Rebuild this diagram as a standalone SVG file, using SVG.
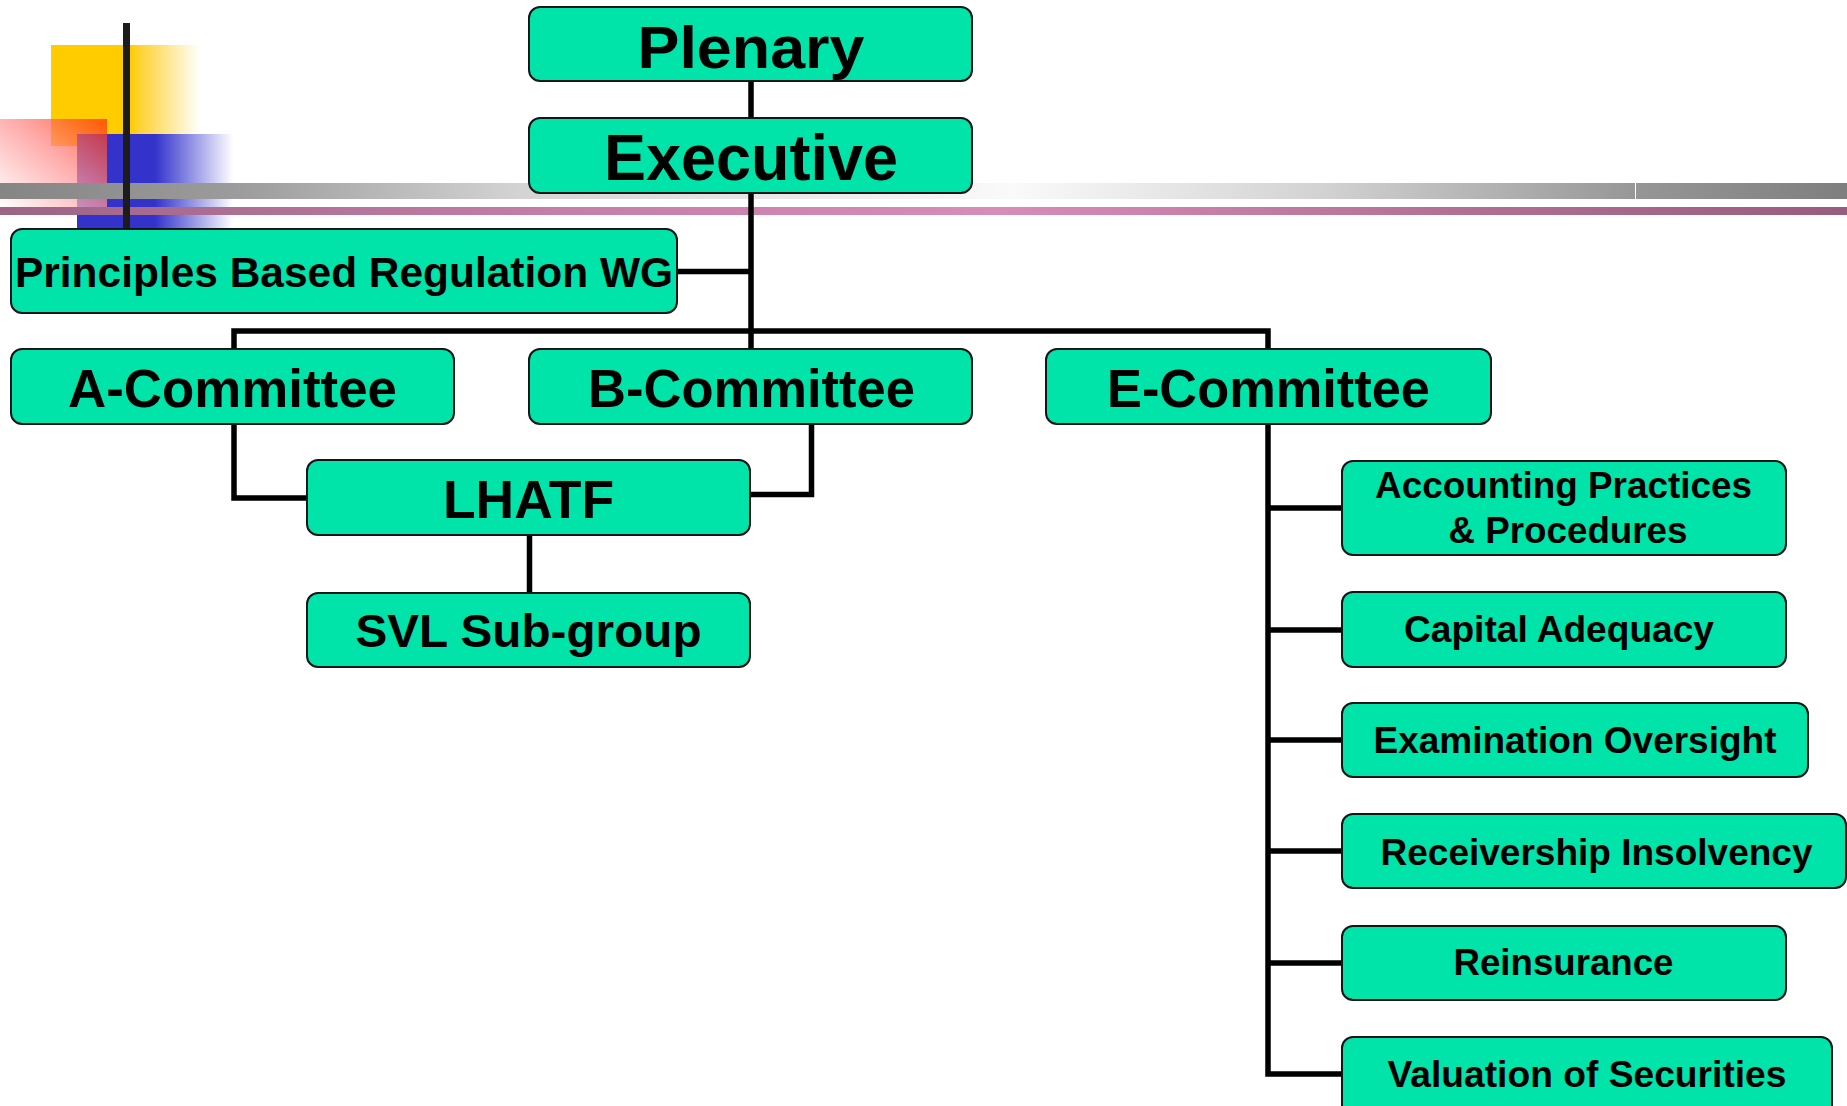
<svg xmlns="http://www.w3.org/2000/svg" width="1847" height="1106" viewBox="0 0 1847 1106">
<defs>
<style>
.box{fill:#00E3A9;stroke:#151515;stroke-width:2}
.t{font-family:"Liberation Sans",Arial,sans-serif;font-weight:bold;fill:#000;text-anchor:middle}
.c{fill:none;stroke:#000;stroke-width:5.5;stroke-linejoin:miter}
</style>
<linearGradient id="gY" x1="0" y1="0" x2="1" y2="0">
<stop offset="0" stop-color="#FFCC00"/>
<stop offset="0.53" stop-color="#FFCC00"/>
<stop offset="0.6" stop-color="#FFD236"/>
<stop offset="1" stop-color="#FFFFFF"/>
</linearGradient>
<linearGradient id="gB" x1="0" y1="0" x2="1" y2="0">
<stop offset="0" stop-color="#3333CC"/>
<stop offset="0.5" stop-color="#3333CC"/>
<stop offset="1" stop-color="#FFFFFF"/>
</linearGradient>
<linearGradient id="gR" x1="1" y1="0" x2="0" y2="1">
<stop offset="0" stop-color="#FF2A00"/>
<stop offset="0.45" stop-color="#FF8C8C"/>
<stop offset="1" stop-color="#FFFFFF"/>
</linearGradient>
<linearGradient id="gG1" x1="0" y1="0" x2="1" y2="0">
<stop offset="0" stop-color="#858585"/>
<stop offset="0.147" stop-color="#9C9C9C"/>
<stop offset="0.32" stop-color="#D4D4D4"/>
<stop offset="0.62" stop-color="#FAFAFA"/>
<stop offset="0.81" stop-color="#D2D2D2"/>
<stop offset="1" stop-color="#979797"/>
</linearGradient>
<linearGradient id="gG2" x1="0" y1="0" x2="1" y2="0">
<stop offset="0" stop-color="#969696"/>
<stop offset="1" stop-color="#7F7F7F"/>
</linearGradient>
<linearGradient id="gM" x1="0" y1="0" x2="1" y2="0">
<stop offset="0" stop-color="#9C6486"/>
<stop offset="0.3" stop-color="#C47EA7"/>
<stop offset="0.54" stop-color="#D88CB8"/>
<stop offset="0.8" stop-color="#B06E92"/>
<stop offset="1" stop-color="#985C7E"/>
</linearGradient>
</defs>

<g id="decoration">
<rect x="51" y="45" width="149" height="101" fill="url(#gY)"/>
<rect x="77" y="134" width="156" height="95" fill="url(#gB)"/>
<rect x="0" y="119" width="107" height="88" fill="url(#gR)" opacity="0.72"/>
<rect x="0" y="183" width="1635" height="16" fill="url(#gG1)"/>
<rect x="1636" y="183" width="211" height="16" fill="url(#gG2)"/>
<rect x="0" y="207" width="1847" height="8" fill="url(#gM)"/>
<rect x="123" y="23" width="7" height="206" fill="#1C1C1C"/>
</g>

<g id="connectors">
<path class="c" d="M751 81 V118"/>
<path class="c" d="M751 193 V349"/>
<path class="c" d="M677 271.5 H751"/>
<path class="c" d="M234 349 V331 H1268 V349"/>
<path class="c" d="M234 424 V498 H307"/>
<path class="c" d="M811.5 420 V494.5 H750"/>
<path class="c" d="M529.5 535 V593"/>
<path class="c" d="M1268 424 V1074 H1342"/>
<path class="c" d="M1268 508 H1342"/>
<path class="c" d="M1268 630 H1342"/>
<path class="c" d="M1268 740 H1342"/>
<path class="c" d="M1268 851 H1342"/>
<path class="c" d="M1268 963 H1342"/>
</g>

<g id="plenary"><rect class="box" x="529" y="7" width="443" height="74" rx="11"/><text class="t" x="751" y="68.3" font-size="60" textLength="227" lengthAdjust="spacingAndGlyphs">Plenary</text></g>
<g id="executive"><rect class="box" x="529" y="118" width="443" height="75" rx="11"/><text class="t" x="751" y="180" font-size="64" textLength="294" lengthAdjust="spacingAndGlyphs">Executive</text></g>
<g id="pbr"><rect class="box" x="11" y="229" width="666" height="84" rx="11"/><text class="t" x="344" y="287.3" font-size="42.5" textLength="658" lengthAdjust="spacingAndGlyphs">Principles Based Regulation WG</text></g>
<g id="a-committee"><rect class="box" x="11" y="349" width="443" height="75" rx="11"/><text class="t" x="232.5" y="406.7" font-size="52.8" textLength="329" lengthAdjust="spacingAndGlyphs">A-Committee</text></g>
<g id="b-committee"><rect class="box" x="529" y="349" width="443" height="75" rx="11"/><text class="t" x="751.5" y="406.7" font-size="52.8" textLength="327" lengthAdjust="spacingAndGlyphs">B-Committee</text></g>
<g id="e-committee"><rect class="box" x="1046" y="349" width="445" height="75" rx="11"/><text class="t" x="1268.5" y="406.7" font-size="52.8" textLength="323" lengthAdjust="spacingAndGlyphs">E-Committee</text></g>
<g id="lhatf"><rect class="box" x="307" y="460" width="443" height="75" rx="11"/><text class="t" x="528.5" y="517.7" font-size="53" textLength="171" lengthAdjust="spacingAndGlyphs">LHATF</text></g>
<g id="svl"><rect class="box" x="307" y="593" width="443" height="74" rx="11"/><text class="t" x="528.5" y="646.7" font-size="47" textLength="346" lengthAdjust="spacingAndGlyphs">SVL Sub-group</text></g>
<g id="accounting"><rect class="box" x="1342" y="461" width="444" height="94" rx="11"/><text class="t" x="1563.5" y="498.3" font-size="36.8" textLength="377" lengthAdjust="spacingAndGlyphs">Accounting Practices</text><text class="t" x="1568" y="542.7" font-size="36.8" textLength="239" lengthAdjust="spacingAndGlyphs">&amp; Procedures</text></g>
<g id="capital"><rect class="box" x="1342" y="592" width="444" height="75" rx="11"/><text class="t" x="1559" y="642.3" font-size="36.8" textLength="310" lengthAdjust="spacingAndGlyphs">Capital Adequacy</text></g>
<g id="examination"><rect class="box" x="1342" y="703" width="466" height="74" rx="11"/><text class="t" x="1575" y="753.3" font-size="36.8" textLength="403" lengthAdjust="spacingAndGlyphs">Examination Oversight</text></g>
<g id="receivership"><rect class="box" x="1342" y="814" width="504" height="74" rx="11"/><text class="t" x="1596.5" y="865" font-size="36.8" textLength="432" lengthAdjust="spacingAndGlyphs">Receivership Insolvency</text></g>
<g id="reinsurance"><rect class="box" x="1342" y="926" width="444" height="74" rx="11"/><text class="t" x="1563.5" y="975" font-size="36.8" textLength="220" lengthAdjust="spacingAndGlyphs">Reinsurance</text></g>
<g id="valuation"><rect class="box" x="1342" y="1037" width="490" height="80" rx="11"/><text class="t" x="1587" y="1086.7" font-size="36.8" textLength="399" lengthAdjust="spacingAndGlyphs">Valuation of Securities</text></g>
</svg>
